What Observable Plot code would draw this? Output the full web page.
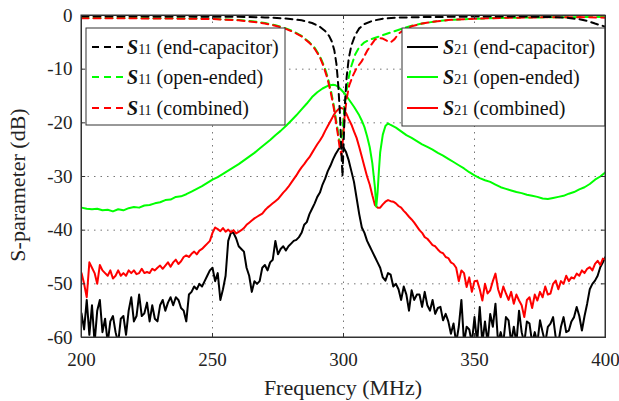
<!DOCTYPE html>
<html><head><meta charset="utf-8">
<script src="https://cdn.jsdelivr.net/npm/d3@7"></script>
<script src="https://cdn.jsdelivr.net/npm/@observablehq/plot@0.6"></script>
<style>body{margin:0;background:#fff} svg{display:block}</style>
</head><body><div id="chart"></div>
<script>
// 1 MHz measurement grid for the S21 sweeps
const freq1 = d3.range(200, 401);

const s21End = [
 -55.5,-58.5,-53,-59.5,-54,-61,-55,-53,-59,-56.5,
 -61,-57,-56,-59,-61,-56.5,-56,-59.5,-55,-52.5,
 -57,-56,-52,-56,-55.5,-53.5,-57,-54,-56.5,-57,
 -54,-53,-55,-53.5,-52.5,-54,-52.5,-53,-54.5,-55,
 -57,-52,-51.5,-50.5,-51,-50,-50.5,-49.5,-48.5,-47.5,
 -47,-49.5,-48,-53,-51,-48.5,-42,-40.5,-40.5,-41.5,
 -43,-43.5,-44,-47,-48.5,-51.5,-49.5,-50,-49.5,-47,
 -46.5,-47.5,-46,-45.5,-42,-44.5,-43.5,-43,-43.8,-43,
 -42.5,-42,-41.8,-41.3,-40.5,-39,-38.5,-37,-36,-35,
 -33.8,-33,-31.5,-30.4,-29,-28,-26.8,-25.8,-25,-24.4,
 -24.6,-25.5,-27,-29,-31,-34,-37,-39.5,-40.5,-42,
 -43,-44,-45,-46,-47,-48.8,-49.4,-48,-48.3,-50.5,
 -50,-51,-53,-50.5,-52,-55,-51.2,-53,-52,-52,
 -54.3,-51.5,-54,-55,-53,-55.6,-54.5,-54.3,-56.8,-55.6,
 -57,-59.3,-57.4,-61,-58,-53,-61,-58,-58.5,-61,
 -56.2,-61,-54.3,-61,-57,-61,-55.6,-58,-53.7,-61,
 -59,-61,-56.2,-56.8,-61,-58,-61,-55,-59,-61,
 -57,-57.4,-61,-59,-61,-56.8,-59,-61,-58,-57.4,
 -56.2,-60,-61,-58,-56.2,-59,-58.7,-57,-56.2,-54.3,
 -56,-58.7,-56,-53.7,-51,-50,-49.4,-48.5,-46.9,-46,
 -45
];

const s21Comb = [
 -48,-50,-52.5,-46,-47,-48,-50,-46.5,-47.5,-48,
 -48.5,-47.5,-49,-48.5,-47.5,-48.5,-48,-48.5,-47.5,-48,
 -47.5,-48.2,-48,-47.2,-48,-47.8,-48,-47.2,-47.5,-47,
 -46.6,-47.2,-46.6,-46,-46.8,-46,-45.5,-46.3,-45.8,-45,
 -44.7,-45,-44.4,-44,-44.5,-43.8,-43.5,-43,-42.5,-42,
 -40.5,-39.5,-39.8,-40.2,-39.6,-40.3,-39.9,-40.4,-40,-40.6,
 -40.3,-40,-39.6,-39,-38.6,-38.2,-37.8,-37.5,-37.2,-36.9,
 -36.3,-35.8,-35.4,-35,-34.6,-34.2,-33.6,-33,-32.5,-31.9,
 -31.2,-30.5,-29.8,-29,-28.3,-27.7,-27,-26.4,-25.6,-24.8,
 -24,-23.3,-22.5,-21.5,-20.6,-19.7,-18.8,-18,-17.5,-17.2,
 -17.4,-18.2,-19.3,-20.3,-21.6,-22.8,-24.5,-26.3,-28.2,-30,
 -31.5,-33.5,-35.3,-35.8,-35.8,-35.2,-34.7,-34.4,-34.6,-34.7,
 -35,-35.5,-35.8,-36.4,-36.9,-37.5,-38,-38.6,-39.3,-40,
 -40.5,-41.3,-41.6,-42.2,-42.8,-43,-43.6,-44.1,-44.3,-45,
 -45.2,-46,-46.3,-47,-49.5,-47.5,-48,-50.6,-48.8,-51.5,
 -49.5,-49.4,-51,-53.1,-50,-51.8,-51.2,-49.5,-48.1,-51,
 -52.5,-50.5,-51.8,-53,-51.5,-53.7,-52,-53.1,-54,-56.2,
 -53,-52.5,-54.5,-52,-53.1,-51.5,-52.5,-50.5,-52,-51.8,
 -50,-49.4,-51,-49.5,-50,-48.5,-49.5,-48.8,-49,-48.1,
 -48.5,-47.5,-48,-47.2,-46.9,-47.5,-46.3,-45.7,-46.5,-45.3,
 -45.5
];

const s21OpenF = [200,202,204,206,208,210,212,214,216,218,220,222,224,226,228,230,232,234,236,238,240,242,244,246,248,250,252,254,256,258,260,262,264,266,268,270,272,274,276,278,280,282,284,286,288,290,292,294,296,297,298,299,300,301,302,303,304,305,306,307,308,309,310,311,312,312.5,313,313.5,314,315,316,317,318,320,322,324,326,328,330,332,334,336,338,340,342,344,346,348,350,352,354,356,358,360,362,364,366,368,370,372,374,376,378,380,382,384,386,388,390,392,394,396,398,400];
const s21Open = [-35.8,-36.0,-36.1,-36.0,-36.3,-36.2,-36.5,-36.1,-36.3,-35.9,-35.7,-35.8,-35.4,-35.3,-35.0,-34.8,-34.4,-34.3,-33.8,-33.7,-33.3,-32.8,-32.3,-31.8,-31.2,-30.6,-30.1,-29.5,-28.9,-28.3,-27.7,-27.0,-26.3,-25.6,-24.8,-24.0,-23.2,-22.3,-21.5,-20.6,-19.6,-18.6,-17.5,-16.4,-15.2,-14.3,-13.6,-13.1,-12.9,-13.0,-13.3,-13.8,-14.3,-14.9,-15.6,-16.3,-17.0,-17.8,-18.6,-19.6,-20.8,-22.5,-24.5,-27.5,-32,-35.6,-33,-29,-25.5,-22.2,-20.6,-20.1,-20.4,-20.9,-21.6,-22.3,-22.8,-23.4,-24.0,-24.5,-25.0,-25.6,-26.1,-26.7,-27.3,-27.9,-28.5,-29.2,-29.8,-30.3,-30.7,-31.0,-31.5,-32.0,-32.3,-32.6,-32.9,-33.1,-33.4,-33.6,-33.8,-34.1,-34.2,-34.0,-33.8,-33.6,-33.2,-32.9,-32.4,-32.0,-31.4,-30.6,-30.0,-29.2];

const s11EndF = [200,220,240,260,270,278,284,288,291,293,294.5,295.5,296.5,297.3,298,298.6,299.1,299.6,300.1,300.6,301.2,302,303,304.5,306,308,311,315,320,330,350,370,380,386,390,393,396,398,400];
const s11End = [-0.15,-0.15,-0.2,-0.25,-0.35,-0.55,-0.9,-1.4,-2.1,-2.9,-3.8,-4.8,-6.5,-9,-13,-18,-24,-30,-23,-16,-11.5,-8,-5.6,-3.6,-2.4,-1.6,-1.0,-0.6,-0.4,-0.3,-0.2,-0.2,-0.3,-0.45,-0.7,-1.0,-1.5,-1.8,-2.1];

const s11OpenF = [200,230,250,260,266,270,274,278,281,284,287,289,291,292.5,294,295.2,296.2,297,297.7,298.3,298.9,299.5,300.2,301,302,303,304.5,306,308,310,313,316,319,322,326,330,335,340,350,360,375,390,400];
const s11Open = [-0.45,-0.5,-0.6,-0.85,-1.1,-1.4,-1.8,-2.4,-3.0,-3.8,-5.0,-6.0,-7.6,-9.3,-11.5,-14,-16.5,-19,-21,-23,-24,-22,-18,-14.5,-11.5,-9.4,-7.2,-5.9,-5.0,-4.5,-4.0,-3.5,-3.0,-2.5,-1.9,-1.5,-1.1,-0.85,-0.6,-0.45,-0.35,-0.3,-0.3];

const s11CombF = [200,230,250,260,266,270,274,278,281,284,287,289,291,292.5,294,295.2,296.2,297,297.8,298.5,299.2,299.8,300.4,301.2,302.2,303.5,305,307,309,310.5,312,313.5,315,316.5,318,319.5,321,323,326,330,335,340,350,360,375,390,400];
const s11Comb = [-0.5,-0.55,-0.65,-0.9,-1.2,-1.5,-1.9,-2.5,-3.1,-3.9,-5.1,-6.2,-7.8,-9.6,-12,-14.5,-17,-19.5,-22,-24.5,-26,-23,-19,-15.5,-13,-11.3,-9.8,-8.5,-6.6,-5.5,-4.5,-4.2,-4.3,-4.7,-5.0,-4.4,-3.4,-2.7,-2.0,-1.5,-1.1,-0.85,-0.6,-0.45,-0.35,-0.3,-0.4];

const xTicks = [200, 250, 300, 350, 400];
const yTicks = [0, -10, -20, -30, -40, -50, -60];
const xGrid = [250, 300, 350];
const yGrid = [-10, -20, -30, -40, -50];

const leftLegend = [
  {sub: "11", label: " (end-capacitor)", color: "#000000"},
  {sub: "11", label: " (open-ended)", color: "#00ff00"},
  {sub: "11", label: " (combined)", color: "#ff0000"}
];
const rightLegend = [
  {sub: "21", label: " (end-capacitor)", color: "#000000"},
  {sub: "21", label: " (open-ended)", color: "#00ff00"},
  {sub: "21", label: " (combined)", color: "#ff0000"}
];

const toRows = (fs, vs) => fs.map((f, i) => ({f, v: vs[i]}));
const dEnd21 = toRows(freq1, s21End);
const dComb21 = toRows(freq1, s21Comb);
const dOpen21 = toRows(s21OpenF, s21Open);
const dEnd11 = toRows(s11EndF, s11End);
const dOpen11 = toRows(s11OpenF, s11Open);
const dComb11 = toRows(s11CombF, s11Comb);

const FONT = "Liberation Serif";
const solid = {x: "f", y: "v", strokeWidth: 2, strokeLinejoin: "round", clip: true};
const dashed = {...solid, strokeDasharray: "7,5"};
const gridStyle = {stroke: "#777", strokeOpacity: 1, strokeWidth: 1, strokeDasharray: "1.5,5"};
const tickStroke = {stroke: "#333", strokeWidth: 1};

const chart = Plot.plot({
  width: 619, height: 401,
  marginLeft: 81, marginRight: 14, marginTop: 15, marginBottom: 64,
  x: {domain: [200, 400]},
  y: {domain: [-60, 0]},
  style: {fontFamily: FONT, fontSize: "19px", background: "white", color: "#222"},
  marks: [
    Plot.gridX(xGrid, gridStyle),
    Plot.gridY(yGrid, gridStyle),
    Plot.line(dEnd21, {...solid, stroke: "#000000"}),
    Plot.line(dComb21, {...solid, stroke: "#ff0000"}),
    Plot.line(dOpen21, {...solid, stroke: "#00ff00"}),
    Plot.line(dOpen11, {...dashed, stroke: "#00ff00"}),
    Plot.line(dComb11, {...dashed, stroke: "#ff0000"}),
    Plot.line(dEnd11, {...dashed, stroke: "#000000"}),
    Plot.ruleY(yTicks, {y: d => d, x1: 200, x2: 201.6, ...tickStroke}),
    Plot.ruleY(yTicks, {y: d => d, x1: 398.4, x2: 400, ...tickStroke}),
    Plot.ruleX(xTicks, {x: d => d, y1: -60, y2: -59.25, ...tickStroke}),
    Plot.ruleX(xTicks, {x: d => d, y1: 0, y2: -0.75, ...tickStroke}),
    Plot.axisX(xTicks, {tickSize: 0, tickPadding: 14.5, tickFormat: d => String(d), label: null, fontSize: 19, fill: "#222"}),
    Plot.axisY(yTicks, {tickSize: 0, tickPadding: 9, tickFormat: d => String(d), label: null, fontSize: 19, fill: "#222"}),
    Plot.frame({stroke: "#333", strokeWidth: 1})
  ]
});
// drop Plot's generated class and embedded stylesheet so nothing overrides the serif face
chart.removeAttribute("class");
chart.querySelectorAll("style").forEach(s => s.remove());
chart.setAttribute("font-family", FONT);
document.getElementById("chart").appendChild(chart);

const svg = d3.select(chart);

function drawLegend(items, box, lineX0, lineX1, textX) {
  const g = svg.append("g");
  g.append("rect").attr("x", box.x).attr("y", box.y).attr("width", box.w).attr("height", box.h)
    .attr("fill", "white").attr("stroke", "#333").attr("stroke-width", 1);
  const rowsY = [47, 77, 108];
  items.forEach((it, i) => {
    const y = rowsY[i];
    g.append("line").attr("x1", lineX0).attr("x2", lineX1).attr("y1", y).attr("y2", y)
      .attr("stroke", it.color).attr("stroke-width", 2)
      .attr("stroke-dasharray", box.dash ? "7,5" : null);
    const t = g.append("text").attr("x", textX).attr("y", y + 7).attr("text-anchor", "start")
      .attr("font-family", FONT).attr("font-size", 20).attr("fill", "#111");
    t.append("tspan").attr("font-weight", "bold").attr("font-style", "italic").text("S");
    t.append("tspan").attr("font-size", 14).text(it.sub);
    t.append("tspan").text(it.label);
  });
}
drawLegend(leftLegend, {x: 86, y: 28, w: 199, h: 97, dash: true}, 92, 124, 127);
drawLegend(rightLegend, {x: 402, y: 28, w: 203, h: 98, dash: false}, 407, 438, 443);

// frame border on top of the legends
svg.append("rect").attr("x", 81).attr("y", 15).attr("width", 524).attr("height", 322)
  .attr("fill", "none").attr("stroke", "#333").attr("stroke-width", 1);

svg.append("text").attr("x", 343).attr("y", 395).attr("text-anchor", "middle")
  .attr("font-family", FONT).attr("font-size", 22).attr("fill", "#222").text("Frequency (MHz)");
svg.append("text").attr("transform", "translate(25,185) rotate(-90)").attr("text-anchor", "middle")
  .attr("font-family", FONT).attr("font-size", 22).attr("fill", "#222").text("S-parameter (dB)");

svg.selectAll("text, tspan").attr("font-family", FONT);
</script>
</body></html>
